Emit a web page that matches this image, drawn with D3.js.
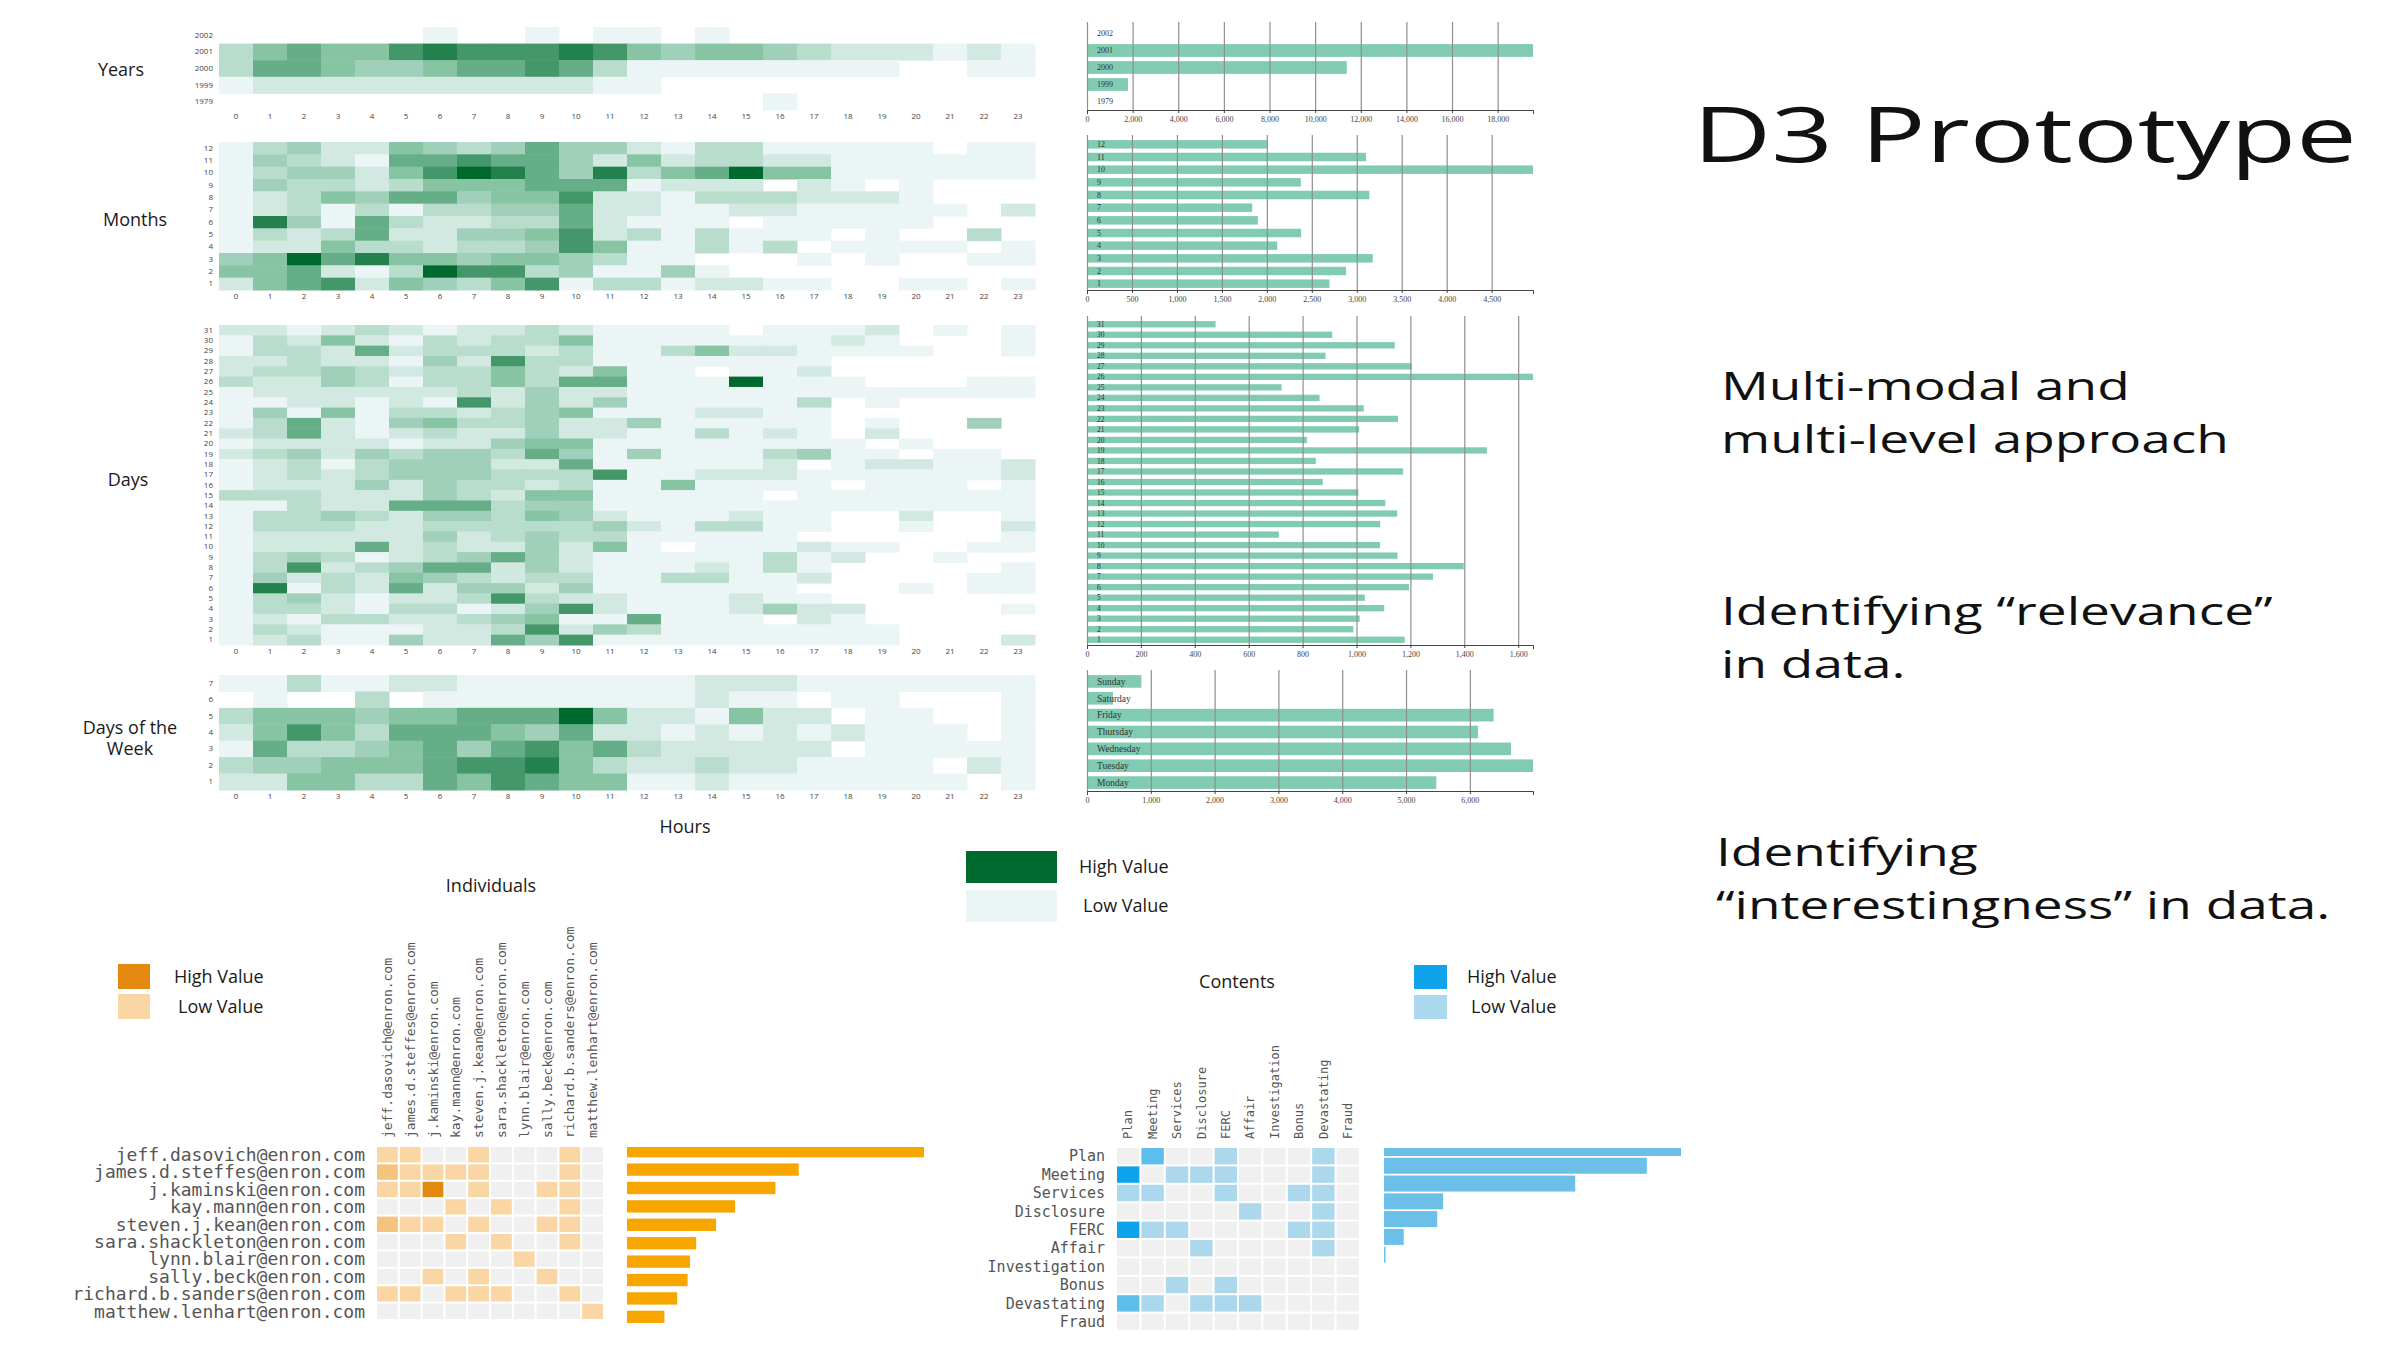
<!DOCTYPE html>
<html>
<head>
<meta charset="utf-8">
<script src="https://cdn.jsdelivr.net/npm/d3@7"></script>
<style>
  body { margin: 0; background: #fff; }
  svg text { font-family: "Open Sans", sans-serif; }
</style>
</head>
<body>
<div id="chart"></div>
<script>
// ---- data ----
var hours = [0, 1, 2, 3, 4, 5, 6, 7, 8, 9, 10, 11, 12, 13, 14, 15, 16, 17, 18, 19, 20, 21, 22, 23];

// heatmap intensity levels per hour (0 = no cell, 9 = darkest), rows top to bottom
var yearLabels = ["2002", "2001", "2000", "1999", "1979"];
var yearHeat = [
  "000000 100101 101000 000000",
  "356557 877787 545543 222121",
  "366544 566763 111111 110011",
  "122222 222221 100000 000000",
  "000000 000000 000010 000000",
];
var monthLabels = ["12", "11", "10", "9", "8", "7", "6", "5", "4", "3", "2", "1"];
var monthHeat = [
  "134225 434644 213311 111011",
  "143216 676642 523322 111111",
  "134425 798648 356955 111111",
  "143323 555666 122202 101000",
  "123546 645572 213332 221000",
  "123131 334462 211221 111102",
  "184163 223362 111011 111000",
  "132362 244572 313111 010030",
  "122533 233475 113130 111101",
  "459685 545543 110001 010011",
  "556213 977341 141000 000000",
  "256725 435713 312211 001101",
];
var dayLabels = ["31", "30", "29", "28", "27", "26", "25", "24", "23", "22", "21", "20", "19", "18", "17", "16",
  "15", "14", "13", "12", "11", "10", "9", "8", "7", "6", "5", "4", "3", "2", "1"];
var dayHeat = [
  "221232 122321 111011 120101",
  "132521 323351 111111 210001",
  "133262 333231 135221 111001",
  "223221 427331 111111 000000",
  "233432 335325 110112 000000",
  "322431 335366 111911 100011",
  "122222 232422 111111 111111",
  "112212 172424 111113 010000",
  "141513 323451 112211 000000",
  "136214 533422 411111 010040",
  "236212 322422 113121 020000",
  "122221 224551 111111 101000",
  "234243 443641 411134 110110",
  "123134 442261 111120 122112",
  "123234 443337 112221 111112",
  "122242 433231 151111 011101",
  "333222 432551 111101 111111",
  "113226 663441 111111 111111",
  "133432 443542 111211 002001",
  "133322 333334 213311 001002",
  "122222 423433 111110 000001",
  "122262 322425 101112 110011",
  "134312 346421 111131 200100",
  "137234 662421 112131 000001",
  "142325 432331 133112 000011",
  "181326 244241 111110 001011",
  "134212 237322 111211 000000",
  "133213 312472 111242 200001",
  "121332 234511 611102 100000",
  "132111 223724 311111 110000",
  "123114 226471 111111 110002",
];
var weekdayNums = ["7", "6", "5", "4", "3", "2", "1"];
var weekdayHeat = [
  "113112 211111 112221 111111",
  "010030 111111 112110 110001",
  "355545 566695 221522 011001",
  "257536 665462 212121 211101",
  "163345 646756 322222 011111",
  "344555 677853 223221 111021",
  "225533 657655 112111 111101",
];

// totals for the bar charts
var yearCounts = [20, 19550, 11385, 1795, 5];
var monthCounts = [2000, 3103, 4960, 2378, 3140, 1837, 1900, 2381, 2115, 3178, 2881, 2696];
var dayCounts = [477, 910, 1142, 885, 1205, 1655, 722, 863, 1027, 1154, 1010, 816, 1484, 849, 1173, 875,
  1007, 1107, 1151, 1088, 712, 1087, 1152, 1398, 1284, 1195, 1031, 1103, 1012, 988, 1179];
var weekdayNames = ["Sunday", "Saturday", "Friday", "Thursday", "Wednesday", "Tuesday", "Monday"];
var weekdayCounts = [852, 407, 6373, 6128, 6645, 6990, 5475];

// individuals
var people = ["jeff.dasovich@enron.com", "james.d.steffes@enron.com", "j.kaminski@enron.com",
  "kay.mann@enron.com", "steven.j.kean@enron.com", "sara.shackleton@enron.com", "lynn.blair@enron.com",
  "sally.beck@enron.com", "richard.b.sanders@enron.com", "matthew.lenhart@enron.com"];
var peopleMatrix = [
  [2, 2, 0, 0, 2, 0, 0, 0, 2, 0],
  [3, 2, 2, 2, 2, 0, 0, 0, 2, 0],
  [2, 2, 6, 0, 2, 0, 0, 2, 2, 0],
  [0, 0, 0, 2, 0, 2, 0, 0, 2, 0],
  [3, 2, 2, 0, 2, 0, 0, 2, 2, 0],
  [0, 0, 0, 2, 0, 2, 0, 0, 2, 0],
  [0, 0, 0, 0, 0, 0, 2, 0, 0, 0],
  [0, 0, 2, 0, 2, 0, 0, 2, 0, 0],
  [2, 2, 0, 2, 2, 2, 0, 0, 2, 0],
  [0, 0, 0, 0, 0, 0, 0, 0, 0, 2],
];
var peopleCounts = [1000, 578, 500, 364, 300, 233, 212, 204, 169, 126];

// contents
var topics = ["Plan", "Meeting", "Services", "Disclosure", "FERC", "Affair", "Investigation", "Bonus",
  "Devastating", "Fraud"];
var topicMatrix = [
  [0, 4, 0, 0, 2, 0, 0, 0, 2, 0],
  [6, 0, 2, 2, 2, 0, 0, 0, 2, 0],
  [2, 2, 0, 0, 2, 0, 0, 2, 2, 0],
  [0, 0, 0, 0, 0, 2, 0, 0, 2, 0],
  [6, 2, 2, 0, 0, 0, 0, 2, 2, 0],
  [0, 0, 0, 2, 0, 0, 0, 0, 2, 0],
  [0, 0, 0, 0, 0, 0, 0, 0, 0, 0],
  [0, 0, 2, 0, 2, 0, 0, 0, 0, 0],
  [4, 2, 0, 2, 2, 2, 0, 0, 0, 0],
  [0, 0, 0, 0, 0, 0, 0, 0, 0, 0],
];
var topicCounts = [452, 400, 291, 90, 81, 30, 2, 0, 0, 0];

// ---- drawing ----
var svg = d3
  .select("#chart")
  .append("svg")
  .attr("width", 2400)
  .attr("height", 1350)
  .style("background", "#fff");

var green = d3.scaleLinear().domain([1, 5, 9]).range(["#ebf5f6", "#87c4a4", "#006a2e"]);
var orange = d3.scaleLinear().domain([2, 6]).range(["#f9d6a3", "#e3890f"]);
var blue = d3.scaleLinear().domain([2, 6]).range(["#acd8ee", "#0ea3ea"]);
var empty_color = "#f0f0f0";
var bar_color = "#80cbb1";
var title_color = "#1a1a1a";
var stretch = 1.4; // the slide text is drawn wide, as in the source frame

var x = d3.scaleBand().domain(hours).range([219, 1035]);

function parse_rows(rows) {
  return rows.map((r) => r.replace(/ /g, "").split("").map(Number));
}

function heat_panel(title, labels, rows, top, bottom, titleX, titleY) {
  var y = d3.scaleBand().domain(labels).range([top, bottom]);
  var cells = [];
  parse_rows(rows).forEach((r, i) =>
    r.forEach((v, j) => {
      if (v > 0) cells.push({ row: labels[i], hour: hours[j], v: v });
    })
  );
  var g = svg.append("g");
  g.selectAll("rect")
    .data(cells)
    .enter()
    .append("rect")
    .attr("x", (d) => x(d.hour))
    .attr("y", (d) => y(d.row))
    .attr("width", x.bandwidth() + 0.5)
    .attr("height", y.bandwidth() + 0.5)
    .attr("fill", (d) => green(d.v));

  var ya = g
    .append("g")
    .attr("transform", "translate(213,0)")
    .call(d3.axisLeft(y).tickSize(0).tickPadding(0));
  ya.select(".domain").remove();
  ya.selectAll("text").style("font-size", "8px").attr("fill", "#444");

  var xa = g
    .append("g")
    .attr("transform", `translate(0,${bottom + 1})`)
    .call(d3.axisBottom(x).tickSize(0).tickPadding(2));
  xa.select(".domain").remove();
  xa.selectAll("text").style("font-size", "8px").attr("fill", "#444");

  g.append("text")
    .attr("x", titleX)
    .attr("y", titleY - (title.length - 1) * 10)
    .attr("text-anchor", "middle")
    .attr("fill", title_color)
    .style("font-size", "18px")
    .selectAll("tspan")
    .data(title)
    .enter()
    .append("tspan")
    .attr("x", titleX)
    .attr("dy", (d, i) => (i == 0 ? "0.35em" : "1.15em"))
    .text((d) => d);
}

function bar_panel(labels, values, top, bottom, pad, nticks, labelSize) {
  var bx = d3.scaleLinear().domain([0, d3.max(values)]).range([1087, 1533]);
  var by = d3.scaleBand().domain(labels).range([top, bottom]).paddingInner(pad).paddingOuter(pad / 2);
  var g = svg.append("g");

  g.selectAll("rect")
    .data(labels)
    .enter()
    .append("rect")
    .attr("x", bx(0))
    .attr("y", (d) => by(d))
    .attr("width", (d, i) => bx(values[i]) - bx(0))
    .attr("height", by.bandwidth())
    .attr("fill", bar_color);

  var grid = g
    .append("g")
    .attr("transform", `translate(0,${bottom})`)
    .call(d3.axisBottom(bx).ticks(nticks).tickSize(-(bottom - top + 3)).tickFormat(""));
  grid.select(".domain").remove();
  grid.selectAll("line").attr("stroke", "#8f8f8f").attr("stroke-width", 1.2);

  g.selectAll(".lbl")
    .data(labels)
    .enter()
    .append("text")
    .attr("x", bx(0) + 10)
    .attr("y", (d) => by(d) + by.bandwidth() / 2)
    .attr("dy", "0.35em")
    .attr("fill", "#333")
    .style("font-family", "'Liberation Serif', serif")
    .style("font-size", labelSize + "px")
    .text((d) => d);

  var axis = g
    .append("g")
    .attr("transform", `translate(0,${bottom})`)
    .call(d3.axisBottom(bx).ticks(nticks).tickSize(3).tickSizeOuter(4).tickFormat(d3.format(",")));
  axis.selectAll("text")
    .style("font-family", "'Liberation Serif', serif")
    .style("font-size", "8px")
    .attr("fill", "#444");
  axis.selectAll("line, path").attr("stroke", "#444");
}

heat_panel(["Years"], yearLabels, yearHeat, 27, 110, 121, 70);
heat_panel(["Months"], monthLabels, monthHeat, 142, 290, 135, 220);
heat_panel(["Days"], dayLabels, dayHeat, 325, 645, 128, 480);
heat_panel(["Days of the", "Week"], weekdayNums, weekdayHeat, 675, 790, 130, 738);

bar_panel(yearLabels, yearCounts, 25, 110, 0.25, 10, 8);
bar_panel(monthLabels, monthCounts, 138, 290, 0.33, 10, 8);
bar_panel(dayLabels, dayCounts, 319, 645, 0.4, 10, 7.5);
bar_panel(weekdayNames, weekdayCounts, 673, 791, 0.25, 7, 9.5);

svg.append("text")
  .attr("x", 685)
  .attr("y", 827)
  .attr("text-anchor", "middle")
  .attr("dy", "0.35em")
  .attr("fill", title_color)
  .style("font-size", "18px")
  .text("Hours");

// legends
function legend(x0, y0, w, h, gap, hi, lo, tx) {
  var g = svg.append("g");
  g.append("rect").attr("x", x0).attr("y", y0).attr("width", w).attr("height", h).attr("fill", hi);
  g.append("rect").attr("x", x0).attr("y", y0 + h + gap).attr("width", w).attr("height", h).attr("fill", lo);
  g.append("text")
    .attr("x", x0 + w + tx)
    .attr("y", y0 + h / 2)
    .attr("dy", "0.35em")
    .attr("fill", title_color)
    .style("font-size", "18px")
    .text("High Value");
  g.append("text")
    .attr("x", x0 + w + tx + 4)
    .attr("y", y0 + h * 1.5 + gap)
    .attr("dy", "0.35em")
    .attr("fill", title_color)
    .style("font-size", "18px")
    .text("Low Value");
}
legend(966, 851, 91, 32, 7, green(9), green(1), 22);
legend(118, 964, 32, 25, 5, orange(6), orange(2), 24);
legend(1414, 965, 33, 24, 6, blue(6), blue(2), 20);

// matrix + ranked bars
function matrix_panel(names, grid, counts, box, color, barColor, rowFont, colFont, bars) {
  var mx = d3.scaleBand().domain(names).range([box.x0, box.x1]);
  var my = d3.scaleBand().domain(names).range([box.y0, box.y1]);
  var g = svg.append("g");
  var cells = [];
  grid.forEach((r, i) => r.forEach((v, j) => cells.push({ r: names[i], c: names[j], v: v })));

  g.selectAll("rect")
    .data(cells)
    .enter()
    .append("rect")
    .attr("x", (d) => mx(d.c))
    .attr("y", (d) => my(d.r))
    .attr("width", mx.bandwidth() - 2)
    .attr("height", my.bandwidth() - 2)
    .attr("fill", (d) => (d.v > 0 ? color(d.v) : empty_color));

  g.selectAll(".row")
    .data(names)
    .enter()
    .append("text")
    .attr("x", box.x0 - 12)
    .attr("y", (d) => my(d) + my.bandwidth() / 2 - 1)
    .attr("dy", "0.35em")
    .attr("text-anchor", "end")
    .attr("fill", "#555")
    .style("font-family", "'DejaVu Sans Mono', monospace")
    .style("font-size", rowFont + "px")
    .text((d) => d);

  g.selectAll(".col")
    .data(names)
    .enter()
    .append("text")
    .attr("transform", (d) => `translate(${mx(d) + mx.bandwidth() / 2 - 1},${box.y0 - 9}) rotate(-90)`)
    .attr("dy", "0.35em")
    .attr("fill", "#555")
    .style("font-family", "'DejaVu Sans Mono', monospace")
    .style("font-size", colFont + "px")
    .text((d) => d);

  var clipId = "clip" + box.x0;
  svg.append("clipPath")
    .attr("id", clipId)
    .append("rect")
    .attr("x", bars.x0 - 2)
    .attr("y", box.y0)
    .attr("width", bars.x1 - bars.x0 + 10)
    .attr("height", box.y1 - box.y0 + 10);

  var bx = d3.scaleLinear().domain([0, d3.max(counts)]).range([bars.x0, bars.x1]);
  var by = d3.scaleBand().domain(names).range([bars.y0, bars.y1]).paddingInner(bars.pad).paddingOuter(0);
  g.append("g")
    .attr("clip-path", `url(#${clipId})`)
    .selectAll("rect")
    .data(names)
    .enter()
    .append("rect")
    .attr("x", bx(0))
    .attr("y", (d) => by(d))
    .attr("width", (d, i) => Math.max(counts[i] > 0 ? 1.5 : 0, bx(counts[i]) - bx(0)))
    .attr("height", by.bandwidth())
    .attr("fill", barColor);
}

matrix_panel(people, peopleMatrix, peopleCounts,
  { x0: 377, x1: 605, y0: 1147, y1: 1321 }, orange, "#f7a600", 18, 13,
  { x0: 627, x1: 924, y0: 1145, y1: 1323, pad: 0.33 });
matrix_panel(topics, topicMatrix, topicCounts,
  { x0: 1117, x1: 1361, y0: 1148, y1: 1332 }, blue, "#6cc0e8", 15, 12,
  { x0: 1384, x1: 1681, y0: 1140, y1: 1316, pad: 0.1 });

svg.append("text")
  .attr("x", 491)
  .attr("y", 886)
  .attr("dy", "0.35em")
  .attr("text-anchor", "middle")
  .attr("fill", title_color)
  .style("font-size", "18px")
  .text("Individuals");
svg.append("text")
  .attr("x", 1237)
  .attr("y", 982)
  .attr("dy", "0.35em")
  .attr("text-anchor", "middle")
  .attr("fill", title_color)
  .style("font-size", "18px")
  .text("Contents");

// slide text
svg.append("text")
  .attr("transform", `translate(1693,162) scale(${stretch},1)`)
  .attr("fill", "#111")
  .style("font-size", "77px")
  .text("D3 Prototype");

var notes = [
  { x: 1721, y: 400, t: "Multi-modal and" },
  { x: 1721, y: 453, t: "multi-level approach" },
  { x: 1721, y: 625, t: "Identifying \u201crelevance\u201d" },
  { x: 1721, y: 678, t: "in data." },
  { x: 1716, y: 866, t: "Identifying" },
  { x: 1716, y: 919, t: "\u201cinterestingness\u201d in data." },
];
svg.selectAll(".note")
  .data(notes)
  .enter()
  .append("text")
  .attr("transform", (d) => `translate(${d.x},${d.y}) scale(${stretch},1)`)
  .attr("fill", "#111")
  .style("font-size", "38px")
  .text((d) => d.t);
</script>
</body>
</html>
